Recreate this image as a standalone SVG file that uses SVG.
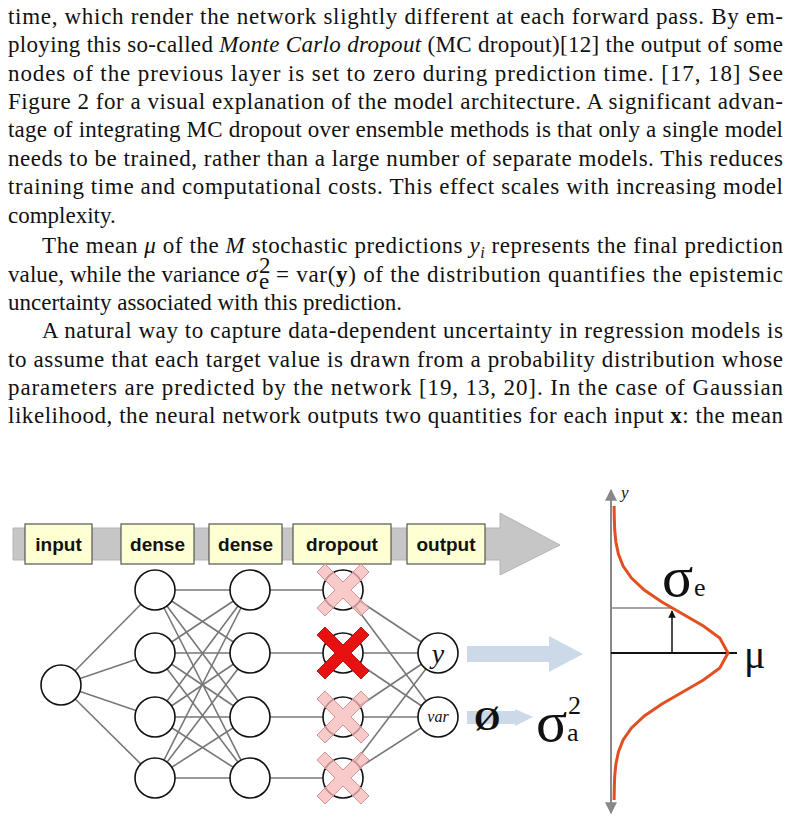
<svg xmlns="http://www.w3.org/2000/svg" width="790" height="824" viewBox="0 0 790 824">
<style>
.t{font-family:"Liberation Serif",serif;font-size:23px;fill:#111}
.i{font-style:italic}
.b{font-weight:bold}
.lbl{font-family:"Liberation Sans",Arial,sans-serif;font-weight:bold;font-size:19px;fill:#111;text-anchor:middle}
.box{fill:#ffffd4;stroke:#555;stroke-width:1.2}
.n{fill:#fff;stroke:#111;stroke-width:1.6}
.c line{stroke:#777;stroke-width:1.6}
.px{fill:#f7b8b8;fill-opacity:0.75;stroke:#d89090;stroke-width:1}
.m{font-family:"Liberation Serif",serif;fill:#111}
</style>
<defs>
<marker id="ah" viewBox="0 0 10 10" refX="9" refY="5" markerWidth="6" markerHeight="6" orient="auto-start-reverse"><path d="M0,0 L10,5 L0,10 z" fill="#888"/></marker>
<marker id="ak" viewBox="0 0 10 10" refX="9" refY="5" markerWidth="5" markerHeight="5" orient="auto"><path d="M0,0 L10,5 L0,10 z" fill="#111"/></marker>
<path id="xs" d="M-26,-18 L-18,-26 L0,-8 L18,-26 L26,-18 L8,0 L26,18 L18,26 L0,8 L-18,26 L-26,18 L-8,0 Z"/>
</defs>
<rect width="790" height="824" fill="#fff"/>
<g id="text">
<text class="t" x="8" y="24" textLength="775" lengthAdjust="spacing">time, which render the network slightly different at each forward pass. By em-</text>
<text class="t" x="8" y="52" textLength="775" lengthAdjust="spacing">ploying this so-called <tspan class="i">Monte Carlo dropout</tspan> (MC dropout)[12] the output of some</text>
<text class="t" x="8" y="81" textLength="775" lengthAdjust="spacing">nodes of the previous layer is set to zero during prediction time. [17, 18] See</text>
<text class="t" x="8" y="109" textLength="775" lengthAdjust="spacing">Figure 2 for a visual explanation of the model architecture. A significant advan-</text>
<text class="t" x="8" y="137" textLength="775" lengthAdjust="spacing">tage of integrating MC dropout over ensemble methods is that only a single model</text>
<text class="t" x="8" y="166" textLength="775" lengthAdjust="spacing">needs to be trained, rather than a large number of separate models. This reduces</text>
<text class="t" x="8" y="194" textLength="775" lengthAdjust="spacing">training time and computational costs. This effect scales with increasing model</text>
<text class="t" x="8" y="223">complexity.</text>
<text class="t" x="42" y="253" textLength="741" lengthAdjust="spacing">The mean <tspan class="i">μ</tspan> of the <tspan class="i">M</tspan> stochastic predictions <tspan class="i">y</tspan><tspan class="i" font-size="16" dy="5">i</tspan><tspan dy="-5"> represents the final prediction</tspan></text>
<text class="t" x="8" y="282" textLength="232" lengthAdjust="spacing">value, while the variance</text>
<text class="t i" x="246" y="282">σ</text>
<text class="t" x="259" y="289" font-size="14">e</text>
<text class="t" x="259" y="273" font-size="14">2</text>
<text class="t" x="276" y="282" textLength="507" lengthAdjust="spacing">= var(<tspan class="b">y</tspan>) of the distribution quantifies the epistemic</text>
<text class="t" x="8" y="310">uncertainty associated with this prediction.</text>
<text class="t" x="42" y="338" textLength="741" lengthAdjust="spacing">A natural way to capture data-dependent uncertainty in regression models is</text>
<text class="t" x="8" y="367" textLength="775" lengthAdjust="spacing">to assume that each target value is drawn from a probability distribution whose</text>
<text class="t" x="8" y="395" textLength="775" lengthAdjust="spacing">parameters are predicted by the network [19, 13, 20]. In the case of Gaussian</text>
<text class="t" x="8" y="423" textLength="775" lengthAdjust="spacing">likelihood, the neural network outputs two quantities for each input <tspan class="b">x</tspan>: the mean</text>
</g>
<g id="flow-arrow">
<path d="M13,528 H500 V513 L560,545 L500,575 V560 H13 Z" fill="#c6c6c6" stroke="#b4b4b4"/>
</g>
<g id="labels">
<rect class="box" x="25" y="524" width="67" height="40"/><text class="lbl" x="58.5" y="551">input</text>
<rect class="box" x="121" y="524" width="73" height="40"/><text class="lbl" x="157.5" y="551">dense</text>
<rect class="box" x="209" y="524" width="73" height="40"/><text class="lbl" x="245.5" y="551">dense</text>
<rect class="box" x="293" y="524" width="98" height="40"/><text class="lbl" x="342" y="551">dropout</text>
<rect class="box" x="407" y="524" width="78" height="40"/><text class="lbl" x="446" y="551">output</text>
</g>
<g id="connectors" class="c">
<line x1="61" y1="685" x2="155" y2="590"/><line x1="61" y1="685" x2="155" y2="653"/><line x1="61" y1="685" x2="155" y2="717"/><line x1="61" y1="685" x2="155" y2="778"/>
<line x1="155" y1="590" x2="250" y2="590"/><line x1="155" y1="590" x2="250" y2="653"/><line x1="155" y1="590" x2="250" y2="717"/><line x1="155" y1="590" x2="250" y2="778"/>
<line x1="155" y1="653" x2="250" y2="590"/><line x1="155" y1="653" x2="250" y2="653"/><line x1="155" y1="653" x2="250" y2="717"/><line x1="155" y1="653" x2="250" y2="778"/>
<line x1="155" y1="717" x2="250" y2="590"/><line x1="155" y1="717" x2="250" y2="653"/><line x1="155" y1="717" x2="250" y2="717"/><line x1="155" y1="717" x2="250" y2="778"/>
<line x1="155" y1="778" x2="250" y2="590"/><line x1="155" y1="778" x2="250" y2="653"/><line x1="155" y1="778" x2="250" y2="717"/><line x1="155" y1="778" x2="250" y2="778"/>
<line x1="250" y1="590" x2="343" y2="590"/><line x1="250" y1="653" x2="343" y2="653"/><line x1="250" y1="717" x2="343" y2="717"/><line x1="250" y1="778" x2="343" y2="778"/>
<line x1="343" y1="590" x2="438" y2="653"/><line x1="343" y1="590" x2="438" y2="717"/>
<line x1="343" y1="653" x2="438" y2="653"/><line x1="343" y1="653" x2="438" y2="717"/>
<line x1="343" y1="717" x2="438" y2="653"/><line x1="343" y1="717" x2="438" y2="717"/>
<line x1="343" y1="778" x2="438" y2="653"/><line x1="343" y1="778" x2="438" y2="717"/>
</g>
<g id="input-layer"><circle class="n" cx="61" cy="685" r="20"/></g>
<g id="dense1"><circle class="n" cx="155" cy="590" r="20"/><circle class="n" cx="155" cy="653" r="20"/><circle class="n" cx="155" cy="717" r="20"/><circle class="n" cx="155" cy="778" r="20"/></g>
<g id="dense2"><circle class="n" cx="250" cy="590" r="20"/><circle class="n" cx="250" cy="653" r="20"/><circle class="n" cx="250" cy="717" r="20"/><circle class="n" cx="250" cy="778" r="20"/></g>
<g id="dropout">
<circle class="n" cx="343" cy="590" r="20"/><circle class="n" cx="343" cy="653" r="20"/><circle class="n" cx="343" cy="717" r="20"/><circle class="n" cx="343" cy="778" r="20"/>
<use href="#xs" class="px" x="343" y="590"/>
<use href="#xs" fill="#e81010" stroke="#a00" stroke-width="0.8" x="343" y="653"/>
<use href="#xs" class="px" x="343" y="717"/>
<use href="#xs" class="px" x="343" y="778"/>
</g>
<g id="output">
<circle class="n" cx="438" cy="653" r="20"/><text class="m i" x="438" y="663" font-size="28" text-anchor="middle">y</text>
<circle class="n" cx="438" cy="717" r="20"/><text class="m i" x="438" y="722" font-size="16" text-anchor="middle">var</text>
</g>
<g id="result-arrows">
<path d="M467,646 H549 V636 L583,654 L549,672 V662 H467 Z" fill="#cbd9e8"/>
<path d="M467,711 H515 V709 L533,717 L515,726 V724 H467 Z" fill="#cbd9e8"/>
<text class="m b" x="474" y="730" font-size="34">Ø</text>
<text class="m" x="536" y="741" font-size="58">σ</text>
<text class="m" x="567" y="741" font-size="26">a</text>
<text class="m" x="568" y="714" font-size="26">2</text>
</g>
<g id="distribution">
<line x1="611" y1="813" x2="611" y2="490" stroke="#888" stroke-width="2" marker-start="url(#ah)" marker-end="url(#ah)"/>
<text class="m i" x="621" y="498" font-size="17" fill="#666">y</text>
<line x1="611" y1="608" x2="672" y2="608" stroke="#888" stroke-width="1.5"/>
<line x1="611" y1="653" x2="737" y2="653" stroke="#111" stroke-width="2"/>
<line x1="672" y1="653" x2="672" y2="611" stroke="#111" stroke-width="1.5" marker-end="url(#ak)"/>
<polyline fill="none" stroke="#e05020" stroke-width="3" points="614.1,506 614.3,518 614.7,530 615.9,542 618.4,554 623.1,566 631.5,578 644.3,590 661.9,602 682.7,614 703.4,626 719.8,638 728,653 719.8,668 703.4,680 682.7,692 661.9,704 644.3,716 631.5,728 623.1,740 618.4,752 615.9,764 614.7,776 614.3,788 614.1,800"/>
<text class="m" x="662" y="596" font-size="58">σ</text>
<text class="m" x="694" y="596" font-size="26">e</text>
<text class="m" x="744" y="668" font-size="40">μ</text>
</g>
</svg>
